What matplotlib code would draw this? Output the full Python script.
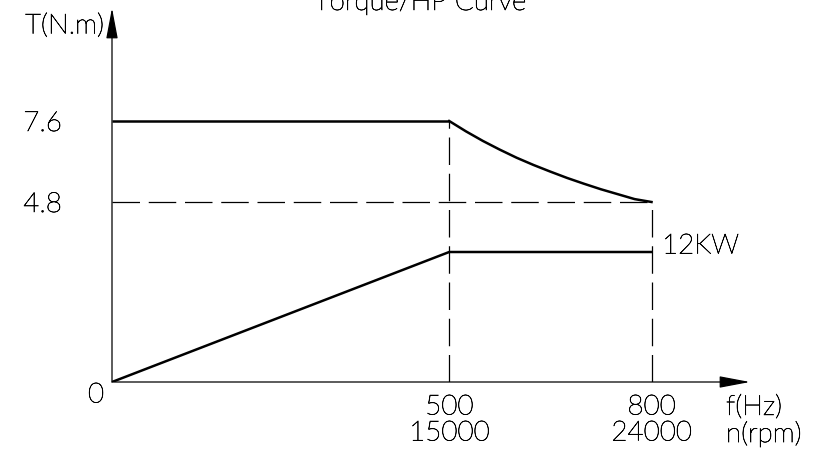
import numpy as np
import matplotlib
matplotlib.use("Agg")
import matplotlib.pyplot as plt
import matplotlib.patheffects as pe

# ---- data ----
freq_flat = [0, 500]
torque_flat = [7.6, 7.6]
freq_decay = [500, 525, 550, 575, 600, 625, 650, 675, 700, 725, 750, 775, 800]
torque_decay = [7.6, 7.24, 6.91, 6.61, 6.33, 6.08, 5.85, 5.63, 5.43, 5.24, 5.07, 4.90, 4.8]
freq_power = [0, 500, 800]
power_kw = [0, 12, 12]
x_ticks = [500, 800]
x_tick_labels = ["500\n15000", "800\n24000"]
y_ticks = [4.8, 7.6]
y_tick_labels = ["4.8", "7.6"]
rated_torque = 7.6
max_torque_at_top = 4.8
f_base = 500
f_max = 800
title = "Torque/HP Curve"
power_label = "12KW"

W, H = 836, 458
fig = plt.figure(figsize=(W / 100, H / 100), dpi=100)
FONT = dict(family=["Lato", "DejaVu Sans"], fontweight="light", color="black",
            path_effects=[pe.withStroke(linewidth=0.45, foreground="black")])
FS = 20

# axes placement in pixels
ox, oy = 112, 382      # origin
right_px, top_px = 750, 8
ax = fig.add_axes([ox / W, (H - oy) / H, (right_px - ox) / W, (oy - top_px) / H])

# piecewise-linear (schematic) torque scale
lo, hi = y_ticks
p_lo, p_hi = 180.0, 261.0
def fwd(y):
    y = np.asarray(y, dtype=float)
    return np.where(y <= lo, y * p_lo / lo, p_lo + (y - lo) * (p_hi - p_lo) / (hi - lo))
def inv(p):
    p = np.asarray(p, dtype=float)
    return np.where(p <= p_lo, p * lo / p_lo, lo + (p - p_lo) * (hi - lo) / (p_hi - p_lo))
ax.set_yscale("function", functions=(fwd, inv))
ax.set_xlim(0, (right_px - ox) / 0.6744)
ax.set_ylim(0, float(inv(oy - top_px)))

for s in ax.spines.values():
    s.set_visible(False)

lw_curve = 1.8
dash = (0, (22, 7))
# torque curve
ax.plot(freq_flat, torque_flat, color="black", lw=lw_curve, solid_capstyle="butt")
ax.plot(freq_decay, torque_decay, color="black", lw=lw_curve)
# dashed guides
ax.plot([f_base, f_base], [0, rated_torque], color="black", lw=0.9, linestyle=dash)
ax.plot([f_max, f_max], [0, max_torque_at_top], color="black", lw=0.9, linestyle=dash)
ax.plot([0, f_max], [max_torque_at_top, max_torque_at_top], color="black", lw=0.9, linestyle=dash)

# power curve on hidden twin axis
ax2 = ax.twinx()
ax2.set_ylim(0, 12 * (oy - top_px) / (oy - 252))
ax2.plot(freq_power, power_kw, color="black", lw=lw_curve)
ax2.axis("off")

# axis arrows
arrow = dict(arrowstyle="-|>,head_length=1.9,head_width=0.36", color="black",
             lw=0.9, mutation_scale=10, shrinkA=0, shrinkB=0)
ax.annotate("", xy=(1, 0), xytext=(0, 0), xycoords="axes fraction",
            textcoords="axes fraction", arrowprops=arrow, annotation_clip=False)
ax.annotate("", xy=(0, 1), xytext=(0, 0), xycoords="axes fraction",
            textcoords="axes fraction", arrowprops=arrow, annotation_clip=False)

# ticks
ax.set_xticks(x_ticks)
ax.set_xticklabels(x_tick_labels, linespacing=1.05, **FONT, fontsize=FS)
ax.set_yticks(y_ticks)
ax.set_yticklabels(y_tick_labels, **FONT, fontsize=FS)
ax.tick_params(axis="x", length=0, pad=9)
ax.tick_params(axis="y", length=0, pad=36)
ax.minorticks_off()

def px(x, y):
    return x / W, 1 - y / H

fig.text(*px(96, 395), "0", ha="center", va="center", fontsize=FS, **FONT)
fig.text(*px(104, 26), "T(N.m)", ha="right", va="center", fontsize=FS, **FONT)
fig.text(*px(726, 421), "f(Hz)\nn(rpm)", ha="left", va="center", fontsize=FS,
         linespacing=1.05, **FONT)
fig.text(*px(662, 246), power_label, ha="left", va="center", fontsize=FS, **FONT)
fig.text(*px(420, 10), title, ha="center", va="baseline", fontsize=FS, **FONT)

fig.savefig("out.png", dpi=100)
